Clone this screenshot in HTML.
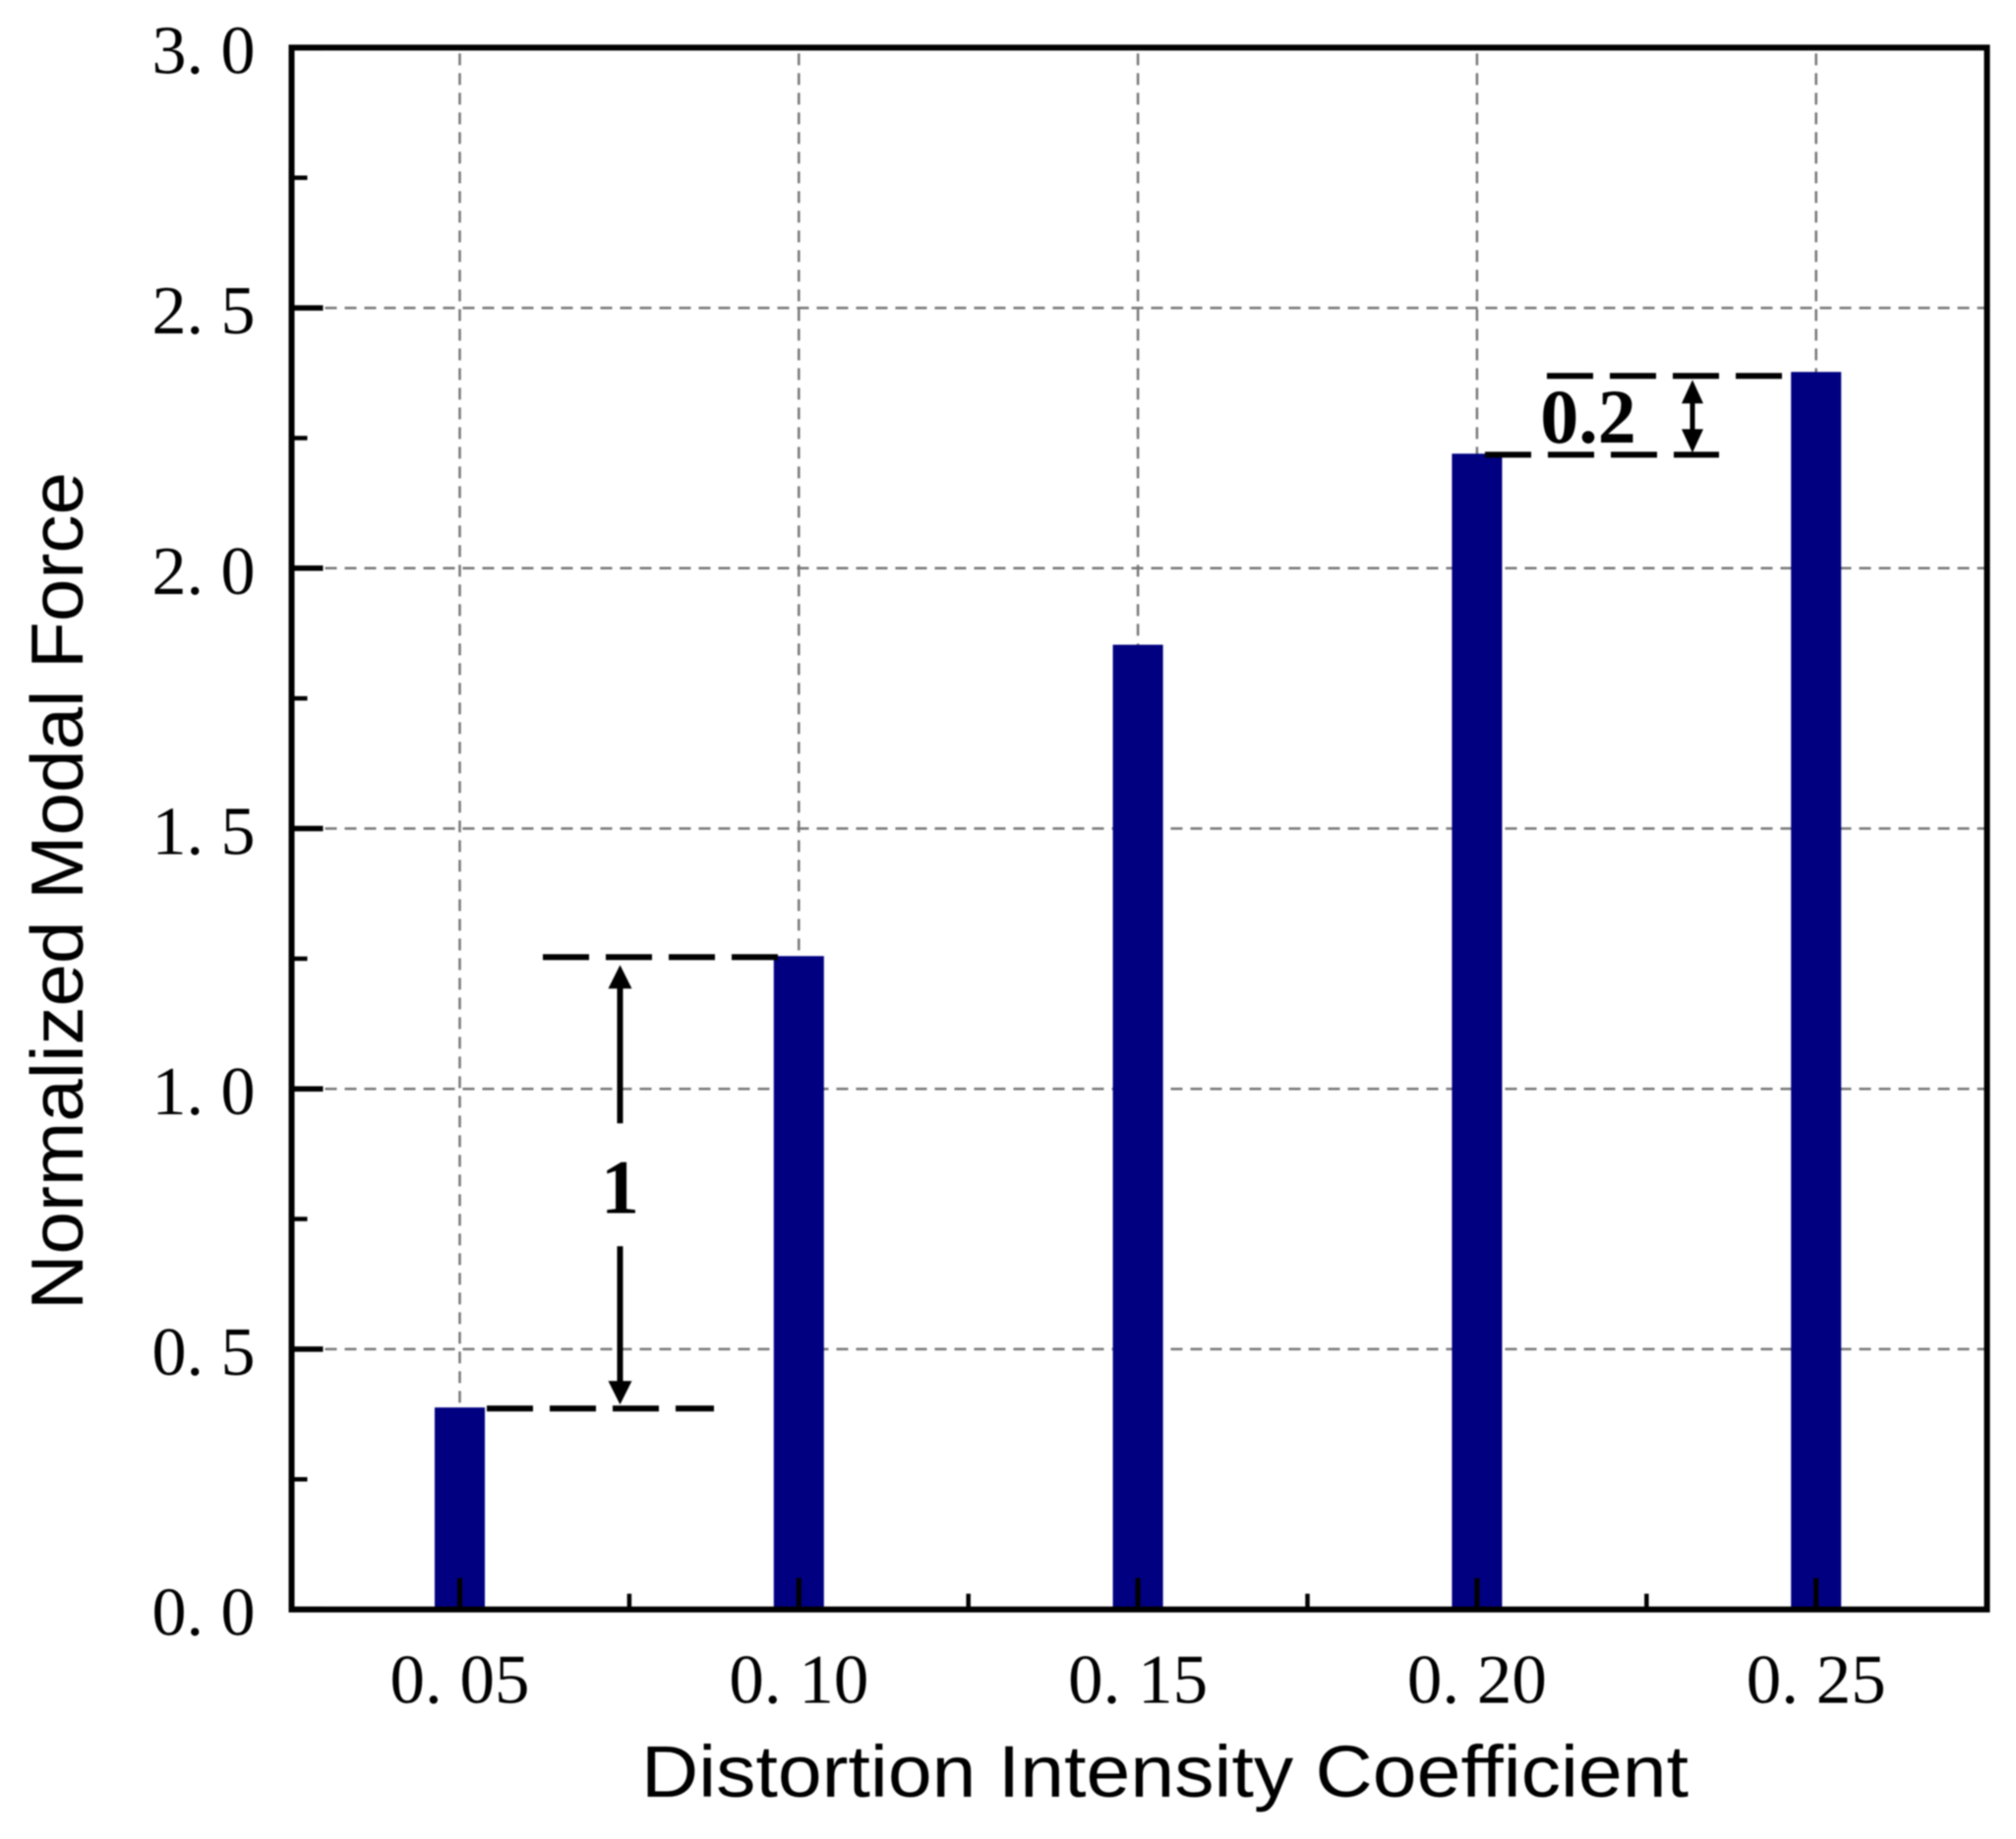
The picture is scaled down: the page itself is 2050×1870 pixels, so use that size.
<!DOCTYPE html>
<html lang="en">
<head>
<meta charset="utf-8">
<title>Normalized Modal Force vs Distortion Intensity Coefficient</title>
<style>
html,body{margin:0;padding:0;background:#fff;}
#chart-root{display:block;width:2050px;height:1870px;filter:blur(0.7px);}
</style>
</head>
<body>
<svg id="chart-root" xmlns="http://www.w3.org/2000/svg" width="2050" height="1870" viewBox="0 0 2050 1870"></svg>
<script>
const categories = [0.05, 0.10, 0.15, 0.20, 0.25];
const categoryLabels = ["0. 05", "0. 10", "0. 15", "0. 20", "0. 25"];
const seriesValues = [0.388, 1.255, 1.853, 2.22, 2.377];
const yMajorTicks = [0, 0.5, 1, 1.5, 2, 2.5, 3];
const yTickLabels = ["0. 0", "0. 5", "1. 0", "1. 5", "2. 0", "2. 5", "3. 0"];
const yMinorTicks = [0.25, 0.75, 1.25, 1.75, 2.25, 2.75];
const xMinorTicks = [0.075, 0.125, 0.175, 0.225];
const yDomain = [0, 3];
const xDomain = [0.0252, 0.2752];

const svg = document.getElementById('chart-root');
const NS = 'http://www.w3.org/2000/svg';
const plot = { left: 296.5, right: 2020.5, top: 48.4, bottom: 1636.6 };
const xScale = v => plot.left + (v - xDomain[0]) / (xDomain[1] - xDomain[0]) * (plot.right - plot.left);
const yScale = v => plot.bottom - (v - yDomain[0]) / (yDomain[1] - yDomain[0]) * (plot.bottom - plot.top);
const barWidth = 51;

function mk(tag, attrs) {
  const el = document.createElementNS(NS, tag);
  for (const k in attrs) el.setAttribute(k, attrs[k]);
  svg.appendChild(el);
  return el;
}
function line(x1, y1, x2, y2, stroke, width, dash) {
  const a = { x1, y1, x2, y2, stroke, 'stroke-width': width };
  if (dash) a['stroke-dasharray'] = dash;
  return mk('line', a);
}
function text(str, x, y, size, anchor, family, weight) {
  const el = mk('text', { x, y, 'font-size': size, 'text-anchor': anchor, 'font-family': family, 'font-weight': weight || 'normal', fill: '#000' });
  el.textContent = str;
  return el;
}
const SERIF = '"Liberation Serif", serif';
const SANS = '"Liberation Sans", sans-serif';

// Horizontal gridlines
yMajorTicks.forEach(v => {
  if (v === yDomain[0] || v === yDomain[1]) return;
  const g = line(plot.left + 34, yScale(v), plot.right, yScale(v), '#777', 2.5, '12 8');
  
  
});
// Vertical gridlines
categories.forEach(c => {
  const g = line(xScale(c), plot.top + 6, xScale(c), plot.bottom, '#777', 2.5, '12 8');
  
  
});
// Bars
categories.forEach((c, i) => {
  const b = mk('rect', { x: xScale(c) - barWidth / 2, y: yScale(seriesValues[i]), width: barWidth, height: plot.bottom - yScale(seriesValues[i]), fill: '#000080' });
  
  
});
// Frame
const frame = mk('rect', { x: plot.left, y: plot.top, width: plot.right - plot.left, height: plot.bottom - plot.top, fill: 'none', stroke: '#000', 'stroke-width': 6 });


// Y ticks and labels
yMajorTicks.forEach((v, i) => {
  const t = line(plot.left, yScale(v), plot.left + 32, yScale(v), '#000', 5.5);
  
  
  const l = text(yTickLabels[i], 259.5, yScale(v) + 26, 70, 'end', SERIF);
  
  
});
yMinorTicks.forEach(v => {
  const t = line(plot.left, yScale(v), plot.left + 16, yScale(v), '#000', 4.5);
  
  
});
// X ticks and labels
categories.forEach((c, i) => {
  const t = line(xScale(c), plot.bottom, xScale(c), plot.bottom - 32, '#000', 5);
  
  
  const l = text(categoryLabels[i], xScale(c), 1731.5, 71, 'middle', SERIF);
  
  
});
xMinorTicks.forEach(c => {
  const t = line(xScale(c), plot.bottom, xScale(c), plot.bottom - 16, '#000', 4.5);
  
  
});

// Annotation: difference between 0.05 and 0.10 bars
const y0 = yScale(seriesValues[0]);
const y1 = yScale(seriesValues[1]);
const y3 = yScale(seriesValues[3]);
const y4 = yScale(seriesValues[4]);
const dash = '47 17';
const dimA = line(791, y1 + 1, 552, y1 + 1, '#000', 6, dash);


const dimB = line(495, y0 + 1, 726, y0 + 1, '#000', 6, dash);


const ax = 630.5;
const arrowUp = line(ax, y1 + 30, ax, y1 + 170, '#000', 6);


const headUp = mk('polygon', { points: `${ax},${y1 + 9} ${ax - 12},${y1 + 33} ${ax + 12},${y1 + 33}`, fill: '#000' });


const arrowDown = line(ax, y0 - 164, ax, y0 - 25, '#000', 6);


const headDown = mk('polygon', { points: `${ax},${y0 - 3} ${ax - 12},${y0 - 27} ${ax + 12},${y0 - 27}`, fill: '#000' });


const label1 = text('1', ax, 1233.5, 78, 'middle', SERIF, 'bold');



// Annotation: difference between 0.20 and 0.25 bars
const dimC = line(1573, y4 + 4, 1824, y4 + 4, '#000', 6, dash);


const dimD = line(1510, y3 + 1, 1748, y3 + 1, '#000', 6, dash);


const bx = 1721;
const shaft2 = line(bx, y4 + 20, bx, y3 - 15, '#000', 5);


const head2a = mk('polygon', { points: `${bx},${y4 + 8} ${bx - 11},${y4 + 32} ${bx + 11},${y4 + 32}`, fill: '#000' });


const head2b = mk('polygon', { points: `${bx},${y3 - 1} ${bx - 11},${y3 - 25} ${bx + 11},${y3 - 25}`, fill: '#000' });


const label2 = text('0.2', 1615, 450, 78, 'middle', SERIF, 'bold');



// Axis titles
const xTitle = text('Distortion Intensity Coefficient', 652, 1827, 74, 'start', SANS);
xTitle.setAttribute('textLength', '1065');
xTitle.setAttribute('lengthAdjust', 'spacingAndGlyphs');


const yTitle = text('Normalized Modal Force', 0, 0, 75, 'start', SANS);
yTitle.setAttribute('transform', 'translate(84 1332) rotate(-90)');
yTitle.setAttribute('textLength', '852');
yTitle.setAttribute('lengthAdjust', 'spacingAndGlyphs');


</script>
</body>
</html>
